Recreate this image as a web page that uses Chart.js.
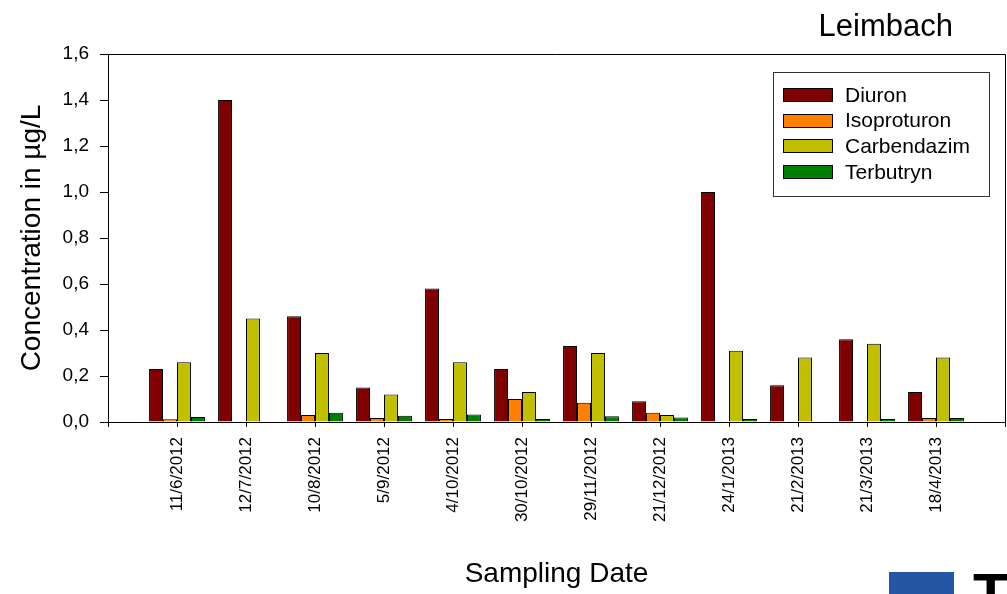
<!DOCTYPE html>
<html>
<head>
<meta charset="utf-8">
<script src="https://cdn.jsdelivr.net/npm/chart.js@4.4.1/dist/chart.umd.min.js"></script>
<style>
  html, body { margin: 0; padding: 0; background: #fff; }
  canvas { display: block; }
</style>
</head>
<body>
<canvas id="chart" width="1007" height="594"></canvas>
<script>
// Sampling dates at the Leimbach site
const samplingDates = ['11/6/2012', '12/7/2012', '10/8/2012', '5/9/2012', '4/10/2012', '30/10/2012',
                       '29/11/2012', '21/12/2012', '24/1/2013', '21/2/2013', '21/3/2013', '18/4/2013'];

// Concentrations in µg/L (null = not detected)
const diuron      = [0.23, 1.40, 0.46, 0.15, 0.58, 0.23, 0.33, 0.09, 1.00, 0.16, 0.36, 0.13];
const isoproturon = [0.012, null, 0.03, 0.017, 0.013, 0.10, 0.084, 0.04, null, null, null, 0.017];
const carbendazim = [0.26, 0.45, 0.30, 0.12, 0.26, 0.13, 0.30, 0.03, 0.31, 0.28, 0.34, 0.28];
const terbutryn   = [0.022, null, 0.04, 0.027, 0.033, 0.013, 0.025, 0.02, 0.013, null, 0.013, 0.017];

const yTicks = [0, 0.2, 0.4, 0.6, 0.8, 1.0, 1.2, 1.4, 1.6];

const FONT = "'Liberation Sans', Arial, Helvetica, sans-serif";

// An empty slot on each side of the dates keeps the groups centred on the ticks
const labels = ['', ...samplingDates, ''];
const pad = arr => [null, ...arr, null];

const series = [
  { label: 'Diuron',      data: diuron,      color: '#800000' },
  { label: 'Isoproturon', data: isoproturon, color: '#FF8000' },
  { label: 'Carbendazim', data: carbendazim, color: '#C0C000' },
  { label: 'Terbutryn',   data: terbutryn,   color: '#008000' }
];

// Frame, boxed legend, site name and footer mark
const decorations = {
  id: 'decorations',
  afterDraw(chart) {
    const { ctx, chartArea: a } = chart;
    ctx.save();
    ctx.strokeStyle = '#000';
    ctx.lineWidth = 1;
    ctx.beginPath();
    ctx.moveTo(a.left, Math.floor(a.top) + 0.5);
    ctx.lineTo(Math.floor(a.right) + 0.5, Math.floor(a.top) + 0.5);
    ctx.lineTo(Math.floor(a.right) + 0.5, a.bottom);
    ctx.stroke();

    // legend box
    const lx = 773, ly = 72, lw = 216, lh = 124;
    ctx.strokeStyle = '#333';
    ctx.strokeRect(lx + 0.5, ly + 0.5, lw, lh);
    ctx.font = '21px ' + FONT;
    ctx.textBaseline = 'middle';
    ctx.textAlign = 'left';
    chart.data.datasets.forEach((ds, i) => {
      const cy = 95 + i * 25.7;
      ctx.fillStyle = ds.backgroundColor;
      ctx.fillRect(783, Math.round(cy - 7), 50, 14);
      ctx.strokeStyle = '#000';
      ctx.strokeRect(783.5, Math.round(cy - 7) + 0.5, 49, 13);
      ctx.fillStyle = '#000';
      ctx.fillText(ds.label, 845, cy + 1);
    });

    // site name
    ctx.font = '31px ' + FONT;
    ctx.textAlign = 'right';
    ctx.fillStyle = '#000';
    ctx.fillText('Leimbach', 953, 27);

    // footer mark
    ctx.fillStyle = '#2456A4';
    ctx.fillRect(889, 572, 65, 22);
    ctx.fillStyle = '#000';
    ctx.textAlign = 'left';
    ctx.textBaseline = 'alphabetic';
    ctx.font = 'bold 58px ' + FONT;
    ctx.fillText('T', 973, 614);
    ctx.restore();
  }
};

new Chart(document.getElementById('chart'), {
  type: 'bar',
  data: {
    labels,
    datasets: series.map(s => ({
      label: s.label,
      data: pad(s.data),
      backgroundColor: s.color,
      borderColor: '#000',
      borderWidth: 1,
      categoryPercentage: 0.81,
      barPercentage: 1.0
    }))
  },
  options: {
    responsive: false,
    animation: false,
    devicePixelRatio: 1,
    layout: { padding: { top: 54, right: 2, left: 0, bottom: 0 } },
    plugins: { legend: { display: false }, tooltip: { enabled: false } },
    scales: {
      x: {
        type: 'category',
        offset: false,
        grid: { offset: false, drawOnChartArea: false, drawTicks: true, tickLength: 5, color: '#000' },
        border: { color: '#000', width: 1 },
        ticks: {
          autoSkip: false, minRotation: 90, maxRotation: 90, padding: 10,
          color: '#000', font: { family: FONT, size: 17 }
        },
        title: {
          display: true, text: 'Sampling Date', color: '#000',
          font: { family: FONT, size: 28 }, padding: { top: 0, bottom: 3 }
        },
        afterFit(scale) {
          scale.height = 172;
          scale.paddingLeft = 0;
          scale.paddingRight = 0;
        }
      },
      y: {
        min: 0, max: 1.6,
        afterBuildTicks(scale) { scale.ticks = yTicks.map(v => ({ value: v })); },
        grid: { drawOnChartArea: false, drawTicks: true, tickLength: 8, color: '#000' },
        border: { color: '#000', width: 1 },
        ticks: {
          padding: 11, color: '#000', font: { family: FONT, size: 19 },
          callback: v => Number(v).toFixed(1).replace('.', ',')
        },
        title: {
          display: true, text: 'Concentration in µg/L', color: '#000',
          font: { family: FONT, size: 28 }, padding: { top: 15, bottom: 0 }
        },
        afterFit(scale) { scale.width = 108; }
      }
    }
  },
  plugins: [decorations]
});
</script>
</body>
</html>
